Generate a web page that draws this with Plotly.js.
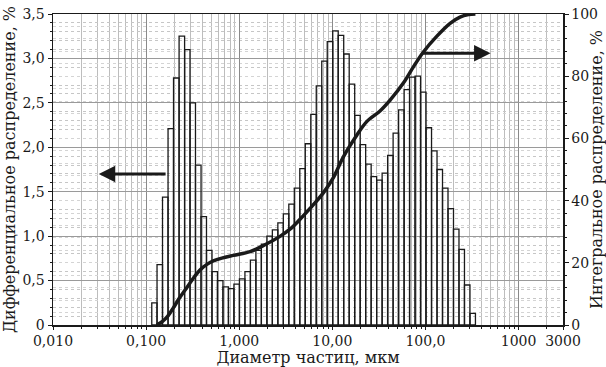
<!DOCTYPE html>
<html>
<head>
<meta charset="utf-8">
<script src="https://cdn.plot.ly/plotly-3.0.1.min.js"></script>
<style>
html,body{margin:0;padding:0;background:#fff;}
#chart{width:606px;height:367px;}
</style>
</head>
<body>
<div id="chart"></div>
<script>
// Channel boundaries (µm) of the size classes shown as bars
var binEdges = [0.115, 0.131, 0.150, 0.172, 0.197, 0.226, 0.259, 0.296, 0.339, 0.389,
  0.445, 0.510, 0.584, 0.669, 0.766, 0.877, 1.005, 1.151, 1.318, 1.510,
  1.729, 1.981, 2.269, 2.599, 2.976, 3.409, 3.905, 4.472, 5.122, 5.867,
  6.720, 7.697, 8.816, 10.097, 11.565, 13.246, 15.172, 17.377, 19.904, 22.797,
  26.111, 29.907, 34.255, 39.234, 44.938, 51.471, 58.953, 67.523, 77.340, 88.583,
  101.460, 116.210, 133.103, 152.453, 174.616, 200.000, 229.075, 262.376, 300.518, 344.206];

// Differential distribution, % (one value per channel)
var diffPct = [0.25, 0.68, 1.44, 2.21, 2.78, 3.25, 3.10, 2.50, 1.80, 1.22,
  0.84, 0.60, 0.50, 0.43, 0.41, 0.46, 0.52, 0.60, 0.73, 0.84,
  0.91, 1.00, 1.07, 1.15, 1.25, 1.36, 1.54, 1.76, 2.04, 2.37,
  2.69, 2.97, 3.19, 3.31, 3.26, 3.05, 2.71, 2.36, 2.03, 1.81,
  1.67, 1.63, 1.71, 1.91, 2.16, 2.42, 2.65, 2.79, 2.80, 2.62,
  2.22, 1.96, 1.75, 1.54, 1.31, 1.08, 0.85, 0.45, 0.13];

// Integral (cumulative) distribution curve
var cumSize = [0.13, 0.15, 0.17, 0.196, 0.226, 0.273, 0.33, 0.379, 0.45, 0.527,
  0.65, 0.865, 1.31, 1.89, 2.74, 3.51, 4.5, 5.76, 8.0, 10.3,
  13.1, 18.3, 23.4, 32.5, 41.7, 57.9, 74.2, 95.0, 132, 184,
  235, 290, 344];
var cumPct = [0, 1.2, 2.8, 5.5, 8.5, 12, 15.5, 17.7, 19.5, 20.6,
  21.5, 22.4, 23.6, 25.8, 28.5, 30.8, 34, 37.5, 42.5, 47.5,
  54, 61, 65.4, 68.8, 72.3, 77.8, 83, 87.8, 92.8, 97,
  99, 99.8, 100];

// Tick labels
var xTickVals = [0.01, 0.1, 1, 10, 100, 1000, 3000];
var xTickText = ['0,010', '0,100', '1,000', '10,00', '100,0', '1000', '3000'];
var yTickVals = [0, 0.5, 1, 1.5, 2, 2.5, 3, 3.5];
var yTickText = ['0', '0,5', '1,0', '1,5', '2,0', '2,5', '3,0', '3,5'];
var y2TickVals = [0, 20, 40, 60, 80, 100];
var y2TickText = ['0', '20', '40', '60', '80', '100'];

var barX = [], barW = [];
for (var i = 0; i < diffPct.length; i++) {
  barX.push((binEdges[i] + binEdges[i + 1]) / 2);
  barW.push(binEdges[i + 1] - binEdges[i]);
}

var FONT = 'DejaVu Serif, Liberation Serif, serif';
var INK = '#1a1a1a';

var traces = [
  {
    type: 'bar', x: barX, y: diffPct, width: barW,
    marker: {color: 'rgba(255,255,255,0)', line: {color: INK, width: 1.3}},
    xaxis: 'x', yaxis: 'y', hoverinfo: 'skip', showlegend: false
  },
  {
    type: 'scatter', mode: 'lines', x: cumSize, y: cumPct,
    line: {color: INK, width: 3.5, shape: 'spline', smoothing: 1},
    xaxis: 'x', yaxis: 'y2', hoverinfo: 'skip', showlegend: false
  }
];

var layout = {
  width: 606, height: 367,
  margin: {l: 53, r: 43, t: 14, b: 42},
  paper_bgcolor: '#fff', plot_bgcolor: '#fff',
  font: {family: FONT, size: 14, color: INK},
  showlegend: false,
  bargap: 0,
  xaxis: {
    type: 'log', range: [-2, Math.log10(3000)],
    tickvals: xTickVals, ticktext: xTickText,
    ticks: 'outside', ticklen: 3, tickcolor: INK, tickwidth: 1,
    showline: true, linecolor: INK, linewidth: 1.5, mirror: true,
    showgrid: true, gridcolor: '#8a8a8a', gridwidth: 1,
    minor: {dtick: 'D1', showgrid: true, gridcolor: '#bdbdbd', gridwidth: 1, ticks: 'outside', ticklen: 2, tickcolor: INK},
    zeroline: false,
    tickfont: {family: FONT, size: 14, color: INK},
    title: {text: 'Диаметр частиц, мкм', font: {family: FONT, size: 16, color: INK}, standoff: 5}
  },
  yaxis: {
    range: [0, 3.5],
    tickvals: yTickVals, ticktext: yTickText,
    ticks: 'outside', ticklen: 4, tickcolor: INK,
    showline: true, linecolor: INK, linewidth: 1.5,
    showgrid: true, gridcolor: '#9a9a9a', gridwidth: 1,
    minor: {dtick: 0.1, showgrid: true, gridcolor: '#c6c6c6', griddash: 'dot', ticks: 'outside', ticklen: 2, tickcolor: INK},
    zeroline: false,
    tickfont: {family: FONT, size: 14, color: INK},
    title: {text: 'Дифференциальное распределение, %', font: {family: FONT, size: 16, color: INK}, standoff: 5}
  },
  yaxis2: {
    overlaying: 'y', side: 'right', range: [0, 100],
    tickvals: y2TickVals, ticktext: y2TickText,
    ticks: 'outside', ticklen: 4, tickcolor: INK,
    showline: true, linecolor: INK, linewidth: 1.5,
    showgrid: false,
    minor: {dtick: 4, showgrid: true, gridcolor: '#d4d4d4', griddash: 'dot', ticks: 'outside', ticklen: 2, tickcolor: INK},
    zeroline: false,
    tickfont: {family: FONT, size: 14, color: INK},
    title: {text: 'Интегральное распределение, %', font: {family: FONT, size: 16, color: INK}, standoff: 5}
  },
  annotations: [
    {xref: 'x', yref: 'y', axref: 'x', ayref: 'y',
     x: Math.log10(0.031), y: 1.70, ax: Math.log10(0.168), ay: 1.70,
     text: '', showarrow: true, arrowhead: 2, arrowsize: 1.1, arrowwidth: 3, arrowcolor: INK},
    {xref: 'x', yref: 'y2', axref: 'x', ayref: 'y2',
     x: Math.log10(500), y: 87.4, ax: Math.log10(91), ay: 87.4,
     text: '', showarrow: true, arrowhead: 2, arrowsize: 1.1, arrowwidth: 3, arrowcolor: INK}
  ]
};

Plotly.newPlot('chart', traces, layout, {displayModeBar: false, staticPlot: true});
</script>
</body>
</html>
